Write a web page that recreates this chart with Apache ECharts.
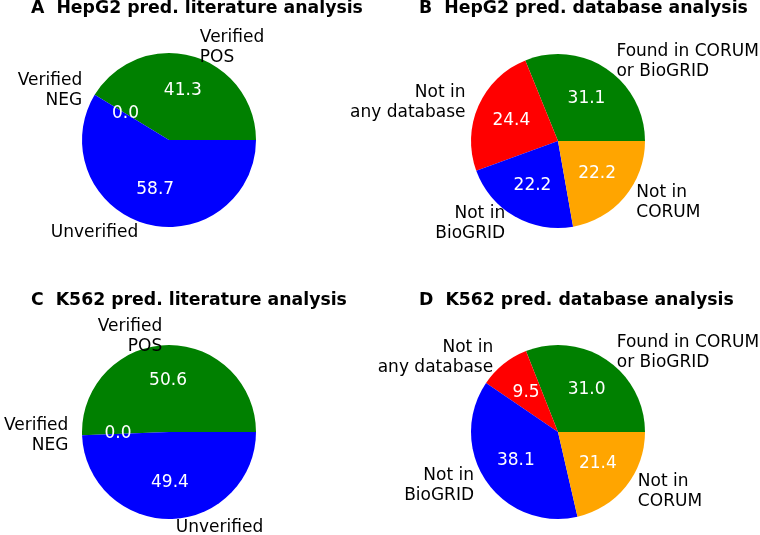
<!DOCTYPE html>
<html>
<head>
<meta charset="utf-8">
<script src="https://cdn.jsdelivr.net/npm/echarts@6/dist/echarts.min.js"></script>
<style>
html,body{margin:0;padding:0;background:#fff;}
#chart{width:760px;height:535px;}
</style>
</head>
<body>
<div id="chart"></div>
<script>
// ---- data ----
const litCategories = ['Verified\nPOS', 'Verified\nNEG', 'Unverified'];
const hepg2Lit = [41.3, 0.0, 58.7];
const k562Lit = [50.6, 0.0, 49.4];
const litColors = ['#008000', '#ff0000', '#0000ff'];

const dbCategories = ['Found in CORUM\nor BioGRID', 'Not in\nany database', 'Not in\nBioGRID', 'Not in\nCORUM'];
const hepg2Db = [31.1, 24.4, 22.2, 22.2];
const k562Db = [31.0, 9.5, 38.1, 21.4];
const dbColors = ['#008000', '#ff0000', '#0000ff', '#ffa500'];

const titles = [
  'A  HepG2 pred. literature analysis',
  'B  HepG2 pred. database analysis',
  'C  K562 pred. literature analysis',
  'D  K562 pred. database analysis'
];

// ---- layout ----
const FONT = 'DejaVu Sans';
const R = 87;
const panels = [
  {cats: litCategories, vals: hepg2Lit, colors: litColors, center: [169, 140], title: titles[0], tx: 31, ty: 0},
  {cats: dbCategories, vals: hepg2Db, colors: dbColors, center: [558, 141], title: titles[1], tx: 419, ty: 0},
  {cats: litCategories, vals: k562Lit, colors: litColors, center: [169, 432], title: titles[2], tx: 31, ty: 292},
  {cats: dbCategories, vals: k562Db, colors: dbColors, center: [558, 432], title: titles[3], tx: 419, ty: 292}
];

const series = [];
const title = [];
panels.forEach(p => {
  const data = p.cats.map((c, i) => ({name: c, value: p.vals[i], itemStyle: {color: p.colors[i]}}));
  const clearData = p.cats.map((c, i) => ({name: c, value: p.vals[i], itemStyle: {color: 'rgba(0,0,0,0)'}}));
  const common = {
    type: 'pie', center: p.center, startAngle: 0, clockwise: false,
    avoidLabelOverlap: false, silent: true, animation: false,
    emphasis: {disabled: true}, minShowLabelAngle: -1, stillShowZeroSum: true
  };
  // visible wedges
  series.push(Object.assign({}, common, {
    radius: [0, R], data: data, label: {show: false}, labelLine: {show: false}
  }));
  // percentage labels (~0.6 R)
  series.push(Object.assign({}, common, {
    radius: [0, 96], data: clearData,
    label: {show: true, position: 'inside', color: '#fff', fontFamily: FONT, fontSize: 17,
      formatter: d => Number(d.value).toFixed(1)},
    labelLine: {show: false}
  }));
  // category labels (~1.1 R)
  series.push(Object.assign({}, common, {
    radius: [0, R * 1.1], data: clearData,
    label: {show: true, position: 'outside', color: '#000', fontFamily: FONT, fontSize: 17,
      lineHeight: 20, distanceToLabelLine: 5, formatter: '{b}'},
    labelLine: {show: false, length: 0, length2: 0}
  }));
  title.push({
    text: p.title, left: p.tx, top: p.ty, padding: 0,
    textStyle: {fontFamily: FONT, fontSize: 17.3, fontWeight: 'bold', color: '#000'}
  });
});

const chart = echarts.init(document.getElementById('chart'), null, {renderer: 'canvas'});
chart.setOption({backgroundColor: '#fff', animation: false, title: title, series: series});
</script>
</body>
</html>
